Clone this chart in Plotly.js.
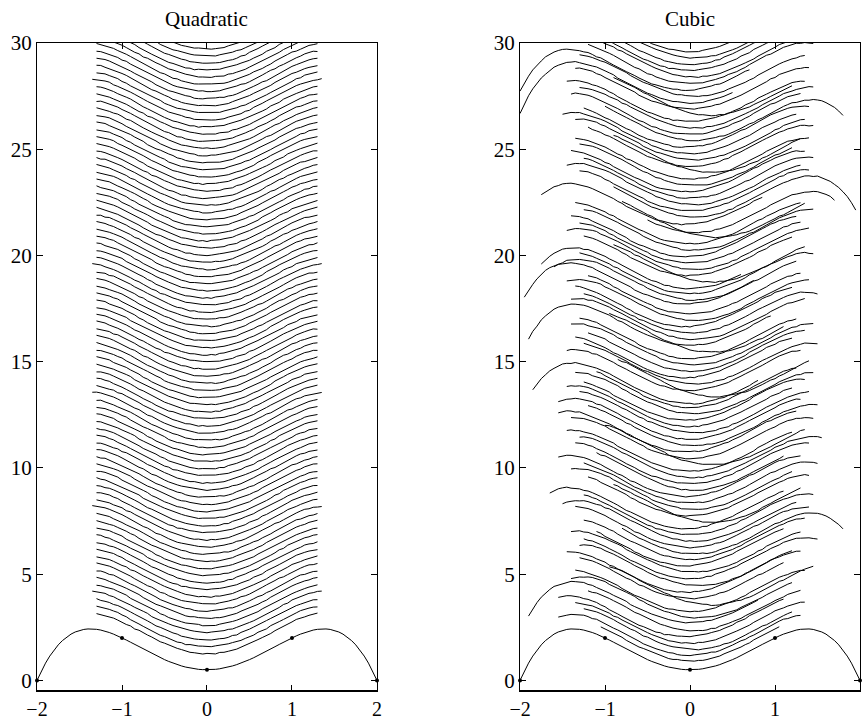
<!DOCTYPE html>
<html>
<head>
<meta charset="utf-8">
<script src="https://cdn.plot.ly/plotly-3.0.1.min.js"></script>
<style>html,body{margin:0;padding:0;background:#fff;}#chart{width:862px;height:721px;}</style>
</head>
<body>
<div id="chart"></div>
<script>
const baseX = [-2.00,-1.95,-1.90,-1.85,-1.80,-1.75,-1.70,-1.65,-1.60,-1.55,-1.50,-1.45,-1.40,-1.35,-1.30,-1.25,-1.20,-1.15,-1.10,-1.05,
  -1.00,-0.95,-0.90,-0.85,-0.80,-0.75,-0.70,-0.65,-0.60,-0.55,-0.50,-0.45,-0.40,-0.35,-0.30,-0.25,-0.20,-0.15,-0.10,-0.05,
  0.00,0.05,0.10,0.15,0.20,0.25,0.30,0.35,0.40,0.45,0.50,0.55,0.60,0.65,0.70,0.75,0.80,0.85,0.90,0.95,
  1.00,1.05,1.10,1.15,1.20,1.25,1.30,1.35,1.40,1.45,1.50,1.55,1.60,1.65,1.70,1.75,1.80,1.85,1.90,1.95,2.00];
const baseY = [0.000,0.431,0.811,1.143,1.429,1.672,1.876,2.044,2.177,2.279,2.352,2.398,2.421,2.422,2.403,2.368,2.317,2.253,2.177,2.093,
  2.000,1.901,1.798,1.692,1.585,1.477,1.370,1.266,1.165,1.068,0.977,0.891,0.813,0.742,0.679,0.625,0.581,0.546,0.520,0.505,
  0.500,0.505,0.520,0.546,0.581,0.625,0.679,0.742,0.813,0.891,0.977,1.068,1.165,1.266,1.370,1.477,1.585,1.692,1.798,1.901,
  2.000,2.093,2.177,2.253,2.317,2.368,2.403,2.422,2.421,2.398,2.352,2.279,2.177,2.044,1.876,1.672,1.429,1.143,0.811,0.431,0.000];

// interpolation nodes marked with dots
const knotX = [-2, -1, 0, 1, 2];
const knotY = [0, 2, 0.5, 2, 0];

// small hand-read wobble of the traced lines
const wiggle = [0.015,-0.01,0.02,-0.025,0.005,0.025,-0.015,0.01,-0.02,0,0.02,-0.005,-0.025,0.015,0.01,-0.015,0.025,-0.01,0.005,-0.02,
  0.015,0,-0.025,0.02,-0.005,0.01,-0.015,0.025,-0.02,0.005,0.015,-0.01,0,0.02,-0.025,0.01,-0.005,0.015,-0.02,0.025,
  0.005,-0.015,0.01,-0.025,0.02,0,-0.01,0.015,-0.005,0.025,-0.02,0.01,0.005,-0.015,0.02,-0.025,0,0.015,-0.01,0.025,
  -0.005,-0.02,0.01,0.015,-0.025,0.005,0.02,-0.015,0,0.01,-0.02,0.025,-0.01,0.005,0.015,-0.025,0.02,-0.005,0.01,-0.015,
  0,0.025,-0.02,0.005,-0.01,0.015,0.02,-0.025,0.01,-0.005,0,-0.015,0.025,0.005,-0.02,0.015,-0.01];

// ---- Quadratic panel: vertical offsets of the stacked curves ----
const quadOffset = [0.75,1.08,1.42,1.76,2.09,2.43,2.76,3.10,3.43,3.77,4.10,4.44,4.77,5.11,5.44,5.78,6.11,6.45,6.78,7.12,
  7.45,7.79,8.12,8.46,8.79,9.13,9.46,9.80,10.13,10.47,10.80,11.14,11.47,11.81,12.14,12.48,12.81,13.15,13.48,13.82,
  14.15,14.49,14.82,15.16,15.49,15.83,16.16,16.50,16.83,17.17,17.50,17.84,18.17,18.51,18.84,19.18,19.51,19.85,20.18,20.52,
  20.85,21.19,21.52,21.86,22.19,22.53,22.86,23.20,23.53,23.87,24.20,24.54,24.87,25.21,25.54,25.88,26.21,26.55,26.88,27.22,
  27.55,27.89,28.22,28.56,28.89,29.23];
const quadLongCurves = [3, 15, 31, 49, 75];
const quadHalf = 1.30, quadHalfLong = 1.35;

// ---- Cubic panel: offset, window [lo, hi] and horizontal shift of each curve ----
const cubicOffset = [0.42,0.68,0.95,1.25,1.55,1.85,2.22,2.45,2.75,3.05,
  3.35,3.65,3.95,4.30,4.60,4.90,5.20,5.45,5.75,6.05,
  6.35,6.65,6.95,7.25,7.55,7.85,8.15,8.45,8.75,9.05,
  9.35,9.65,9.95,10.25,10.55,10.85,11.15,11.45,11.75,12.05,
  12.35,12.52,12.85,13.15,13.45,13.75,14.05,14.35,14.65,14.95,
  15.27,15.55,15.85,16.15,16.45,16.75,17.23,17.40,17.70,17.94,
  18.25,18.55,18.85,19.15,19.45,19.75,20.05,20.35,20.58,20.96,
  21.32,21.60,21.90,22.20,22.50,22.80,23.10,23.40,23.70,24.00,
  24.30,24.60,24.91,25.20,25.50,25.80,26.10,26.40,26.68,27.00,
  27.28,27.60,27.90,28.20,28.50,28.80,29.10];
const cubicLo = [-1.05,-1.55,-1.25,-1.35,-1.55,-1.20,-1.90,-1.40,-1.35,-0.95,
  -1.30,-1.45,-1.30,-1.25,-1.40,-1.10,-1.25,-0.80,-1.35,-1.50,
  -1.25,-1.65,-0.90,-1.20,-1.40,-1.25,-1.55,-1.10,-1.35,-1.30,
  -1.45,-1.00,-1.40,-1.55,-1.20,-1.55,-1.30,-1.45,-1.25,-1.35,
  -1.10,-1.85,-0.85,-1.45,-1.25,-1.35,-1.20,-1.40,-1.30,-0.95,
  -1.90,-1.40,-1.25,-1.35,-1.45,-1.20,-1.95,-1.60,-1.30,-1.75,
  -0.90,-1.25,-1.45,-1.30,-1.40,-1.25,-1.35,-0.80,-0.50,-1.75,
  -0.90,-1.30,-1.45,-1.25,-1.40,-1.30,-1.35,-0.90,-1.20,-1.35,
  -1.50,-1.25,-1.00,-1.40,-1.30,-1.45,-0.90,-1.35,-2.00,-1.30,
  -2.00,-1.20,-1.35,-1.25,-1.30,-1.40,-1.20];
const cubicHi = [1.05,1.30,1.20,1.35,1.10,1.30,0.80,1.20,1.35,1.45,
  1.10,1.30,1.20,1.50,1.30,1.10,1.35,1.80,1.40,1.25,
  1.45,1.10,1.30,1.40,1.20,1.50,1.30,1.10,1.40,1.55,
  1.20,1.35,1.45,1.25,1.50,1.30,1.40,1.20,1.35,1.45,
  1.25,0.80,1.40,1.30,1.50,1.20,1.35,1.45,1.25,1.10,
  0.95,1.35,1.50,1.20,1.40,1.30,0.75,1.25,1.45,0.60,
  1.35,1.20,1.40,1.30,1.25,1.45,1.30,1.35,1.70,0.85,
  1.95,1.40,1.30,1.45,1.35,1.20,1.40,1.30,1.45,1.35,
  1.25,1.40,1.80,1.30,1.45,1.35,1.20,1.40,0.50,1.35,
  0.70,1.45,1.40,1.30,1.40,1.35,1.25];
const cubicShift = [0,0,0.05,0,-0.05,0.05,0,0.10,0,0.25,
  0,-0.05,0.10,0,0.05,-0.05,0,0.05,0,0.05,
  0,-0.05,0.25,0,0.05,0,-0.05,0.05,0,0.05,
  0,0.25,0,-0.05,0.05,0,0.05,0,-0.05,0.05,
  0,0,0.30,0,0.05,-0.05,0,0.05,0,0.25,
  0,0.05,0,-0.05,0.05,0,-0.05,0.05,0,0,
  0.25,0,0.05,0,-0.05,0.05,0,0.30,0.05,-0.05,
  0.05,0,0.05,0,-0.05,0.05,0,0.25,0,0.05,
  0,-0.05,0.05,0,0.05,0,0.25,0,0,0.05,
  -0.05,0,0.05,0,0,0.05,0];

const titles = ['Quadratic', 'Cubic'];
const xTicks = [-2, -1, 0, 1, 2];
const yTicks = [0, 5, 10, 15, 20, 25, 30];

// ---- build traces ----
const STEP = baseX[1] - baseX[0];
function gridIndex(x) { return Math.round((x - baseX[0]) / STEP); }
function addCurve(X, Y, offset, lo, hi, shift, c) {
  const s = Math.round(shift / STEP);
  for (let i = gridIndex(lo); i <= gridIndex(hi); i++) {
    const j = i - s;
    if (i < 0 || i >= baseX.length || j < 0 || j >= baseY.length) continue;
    X.push(baseX[i]);
    Y.push(baseY[j] + offset + wiggle[(i * 7 + c * 13) % wiggle.length]);
  }
  X.push(null); Y.push(null);
}

const qX = [], qY = [];
quadOffset.forEach((v, c) => {
  const h = quadLongCurves.includes(c) ? quadHalfLong : quadHalf;
  addCurve(qX, qY, v, -h, h, 0, c);
});
const cX = [], cY = [];
cubicOffset.forEach((v, c) => addCurve(cX, cY, v, cubicLo[c], cubicHi[c], cubicShift[c], c + 5));

const lineStyle = {color: '#000', width: 1};
const traces = [];
[['x', 'y', qX, qY], ['x2', 'y2', cX, cY]].forEach(([xa, ya, X, Y]) => {
  traces.push({type: 'scatter', mode: 'lines', x: X, y: Y, xaxis: xa, yaxis: ya,
    line: lineStyle, connectgaps: false, hoverinfo: 'skip'});
  traces.push({type: 'scatter', mode: 'lines', x: baseX, y: baseY, xaxis: xa, yaxis: ya,
    line: lineStyle, hoverinfo: 'skip'});
  traces.push({type: 'scatter', mode: 'markers', x: knotX, y: knotY, xaxis: xa, yaxis: ya,
    marker: {color: '#000', size: 4}, cliponaxis: false, hoverinfo: 'skip'});
});

const FONT = 'Liberation Serif, Times New Roman, Times, serif';
function xAxis(domain, anchor) {
  return {domain: domain, anchor: anchor, range: [-2, 2], tickvals: xTicks, ticks: 'inside', ticklen: 6,
    tickcolor: '#000', tickwidth: 1, showline: true, linecolor: '#000', linewidth: 1, mirror: 'ticks',
    showgrid: false, zeroline: false, fixedrange: true, automargin: false, ticklabelstandoff: 0,
    tickfont: {family: FONT, size: 20, color: '#000'}};
}
function yAxis(anchor) {
  return {anchor: anchor, range: [-0.5, 30], tickvals: yTicks, ticks: 'inside', ticklen: 6,
    tickcolor: '#000', tickwidth: 1, showline: true, linecolor: '#000', linewidth: 1, mirror: 'ticks',
    showgrid: false, zeroline: false, fixedrange: true, automargin: false,
    tickfont: {family: FONT, size: 21, color: '#000'}};
}
const d1 = [0, 0.4131], d2 = [0.5869, 1];
const layout = {
  width: 862, height: 721,
  margin: {l: 37, r: 2, t: 43, b: 30, pad: 0},
  paper_bgcolor: '#fff', plot_bgcolor: '#fff',
  showlegend: false,
  font: {family: FONT, size: 21, color: '#000'},
  xaxis: xAxis(d1, 'y'), yaxis: yAxis('x'),
  xaxis2: xAxis(d2, 'y2'), yaxis2: yAxis('x2'),
  annotations: [
    {text: titles[0], x: (d1[0] + d1[1]) / 2, y: 1, xref: 'paper', yref: 'paper', xanchor: 'center', yanchor: 'middle',
     yshift: 24, showarrow: false, font: {family: FONT, size: 21, color: '#000'}},
    {text: titles[1], x: (d2[0] + d2[1]) / 2, y: 1, xref: 'paper', yref: 'paper', xanchor: 'center', yanchor: 'middle',
     yshift: 24, showarrow: false, font: {family: FONT, size: 21, color: '#000'}}
  ],
  shapes: [
    {type: 'line', xref: 'x domain', yref: 'y domain', x0: 0, x1: 1, y0: 0, y1: 0, line: {color: '#000', width: 2}},
    {type: 'line', xref: 'x2 domain', yref: 'y2 domain', x0: 0, x1: 1, y0: 0, y1: 0, line: {color: '#000', width: 2}}
  ]
};
Plotly.newPlot('chart', traces, layout, {displayModeBar: false, staticPlot: true});
</script>
</body>
</html>
